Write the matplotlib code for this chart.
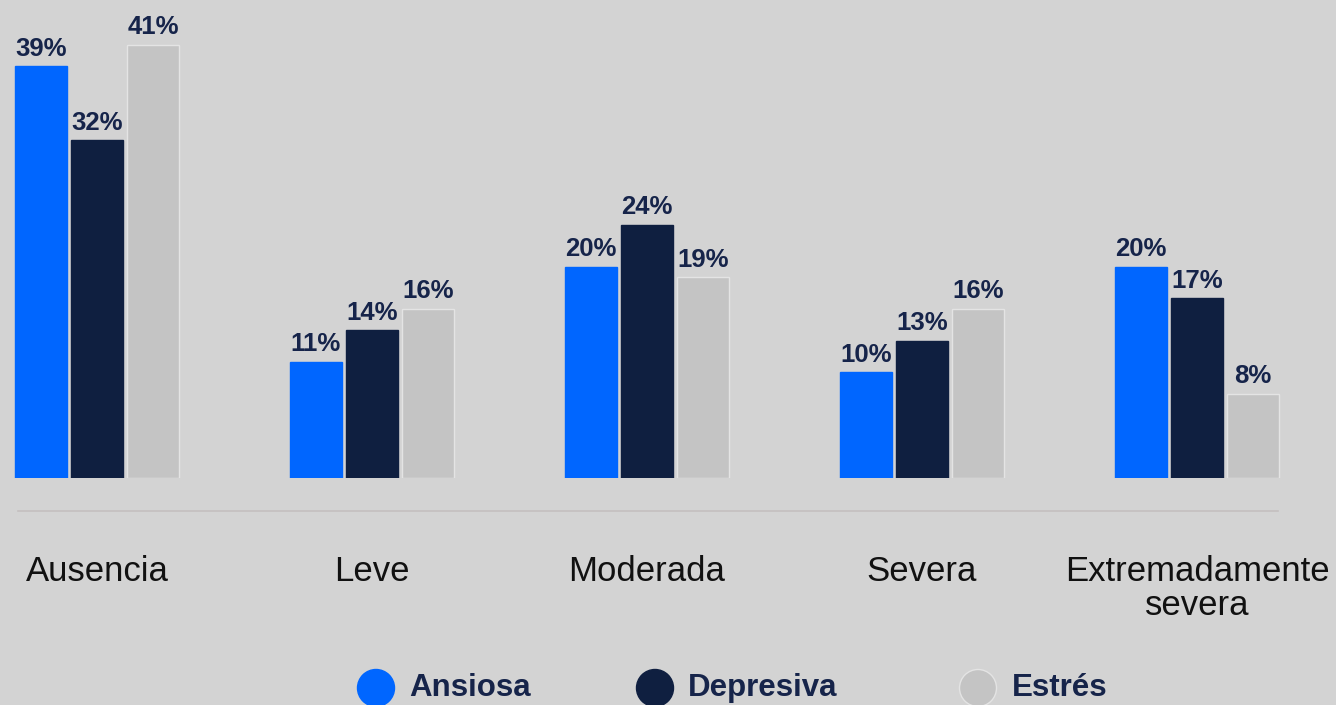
import matplotlib
matplotlib.use("Agg")
import matplotlib.pyplot as plt
from matplotlib.lines import Line2D
from matplotlib.patches import Circle
import matplotlib.transforms as mtransforms
import numpy as np

categories = ["Ausencia", "Leve", "Moderada", "Severa", "Extremadamente\nsevera"]
series_names = ["Ansiosa", "Depresiva", "Estrés"]
ansiosa = [39, 11, 20, 10, 20]
depresiva = [32, 14, 24, 13, 17]
estres = [41, 16, 19, 16, 8]
colors = ["#0066ff", "#0f1f40", "#c4c4c4"]
edges = ["#0066ff", "#0f1f40", "#e4e4e4"]

W, H = 1336, 705
BG = "#d3d3d3"
LABEL_COLOR = "#16244a"

fig = plt.figure(figsize=(W / 100, H / 100), dpi=100, facecolor=BG)

base_px = 478  # baseline from top
ax = fig.add_axes([0, (H - base_px) / H, 1, base_px / H])
ax.set_facecolor(BG)
ax.patch.set_alpha(0)

group_px = 275.0
first_center = 97.0
ax.set_xlim(-first_center / group_px, (W - first_center) / group_px)
px_per_pct = 10.56
ax.set_ylim(0, base_px / px_per_pct)

x = np.arange(len(categories))
bw = 52 / group_px
step = 56 / group_px
for i, (vals, c, ec) in enumerate(zip([ansiosa, depresiva, estres], colors, edges)):
    bars = ax.bar(x + (i - 1) * step, vals, width=bw, color=c, edgecolor=ec,
                  linewidth=1.0, zorder=2)
    ax.bar_label(bars, labels=[f"{v}%" for v in vals], padding=4,
                 fontsize=18.5, fontweight="bold", color=LABEL_COLOR,
                 family="Liberation Sans")

ax.axis("off")

# separator line
fig.add_artist(Line2D([18 / W, 1278 / W], [1 - 511 / H, 1 - 511 / H],
                      color="#c4bfbf", lw=1.2))

# category labels
trans = mtransforms.blended_transform_factory(ax.transData, fig.transFigure)
for xi, cat in zip(x, categories):
    ax.text(xi, 1 - 555 / H, cat, transform=trans, ha="center", va="top",
            fontsize=25, color="#111111", family="Liberation Sans",
            linespacing=1.05)

# legend overlay
lax = fig.add_axes([0, 0, 1, 1])
lax.set_xlim(0, W)
lax.set_ylim(H, 0)
lax.axis("off")
lax.patch.set_alpha(0)
leg_circle_x = [376, 655, 978]
leg_text_x = [409, 688, 1012]
leg_y = 688
for cx, tx, name, c, ec in zip(leg_circle_x, leg_text_x, series_names, colors, edges):
    lax.add_patch(Circle((cx, leg_y), 18.5, facecolor=c, edgecolor=ec, lw=1))
    lax.text(tx, leg_y, name, ha="left", va="center", fontsize=22.5,
             fontweight="bold", color=LABEL_COLOR, family="Liberation Sans")

fig.savefig("out.png", dpi=100, facecolor=BG)
